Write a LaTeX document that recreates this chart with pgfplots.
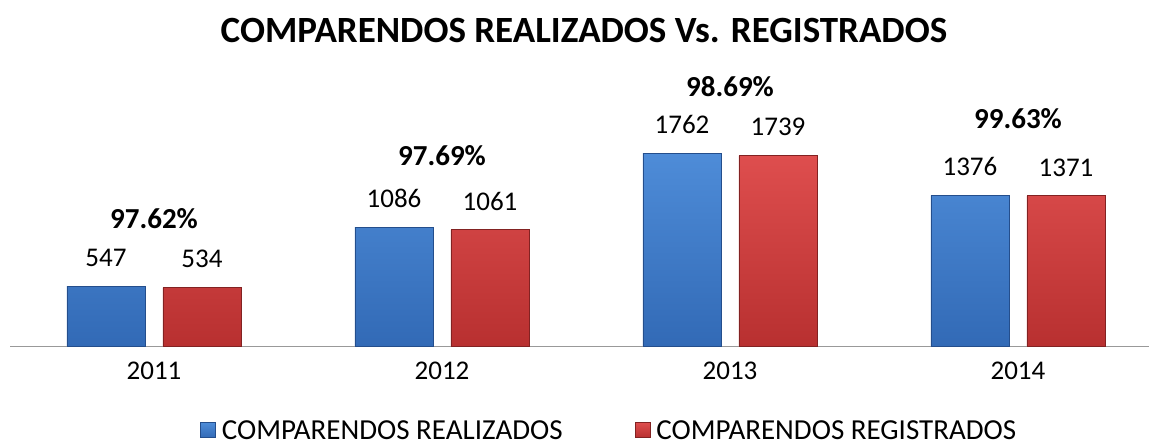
\documentclass[border=0pt]{standalone}
\usepackage{pgfplots}
\pgfplotsset{compat=1.18}
\usepackage{fontspec}
\setmainfont{Carlito}
\definecolor{cbluetop}{RGB}{78,140,216}
\definecolor{cbluebot}{RGB}{50,106,182}
\definecolor{cbluedark}{RGB}{36,78,140}
\definecolor{credtop}{RGB}{222,78,78}
\definecolor{credbot}{RGB}{184,48,48}
\definecolor{creddark}{RGB}{130,34,34}
\begin{document}
\begin{tikzpicture}[x=1pt,y=1pt]
\useasboundingbox (0,0) rectangle (1149,445);
\node[font=\fontsize{37}{40}\selectfont\bfseries] at (584,414) {COMPARENDOS REALIZADOS Vs. REGISTRADOS};
\begin{axis}[
  at={(10pt,99pt)}, anchor=south west,
  scale only axis, width=1139pt, height=266pt,
  xmin=-0.5, xmax=3.455, ymin=0, ymax=2429,
  axis x line=bottom, axis y line=none,
  axis line style={-, draw=gray!80, line width=1pt},
  xtick=data, xticklabels={2011,2012,2013,2014},
  major tick length=0pt,
  ytick=\empty,
  x tick label style={font=\fontsize{27}{30}\selectfont, yshift=-12pt},
  ybar, bar width=78pt,
  nodes near coords,
  /pgf/number format/assume math mode=true,
  /pgf/number format/1000 sep={},
  every node near coord/.append style={font=\fontsize{27}{30}\selectfont, anchor=south, inner sep=0pt, yshift=19pt},
  legend style={draw=none, fill=none, at={(0.526,-0.318)}, anchor=center, legend columns=2,
    font=\fontsize{29}{31}\selectfont, inner sep=0pt,
    /tikz/every odd column/.append style={column sep=4pt},
    /tikz/every even column/.append style={column sep=70pt}},
  legend image code/.code={\draw[#1, line width=0.8pt] (0pt,-7pt) rectangle (15pt,8pt);},
  clip=false,
]
\addplot[bar shift=-48pt, top color=cbluetop, bottom color=cbluebot, draw=cbluedark, line width=0.8pt] coordinates {(0,547) (1,1086) (2,1762) (3,1376)};
\addplot[bar shift=48pt, top color=credtop, bottom color=credbot, draw=creddark, line width=0.8pt] coordinates {(0,534) (1,1061) (2,1739) (3,1371)};
\legend{COMPARENDOS REALIZADOS, COMPARENDOS REGISTRADOS}
\node[font=\fontsize{29}{32}\selectfont\bfseries, anchor=south, inner sep=0pt] at (axis cs:0,1068) {97.62\%};
\node[font=\fontsize{29}{32}\selectfont\bfseries, anchor=south, inner sep=0pt] at (axis cs:1,1643) {97.69\%};
\node[font=\fontsize{29}{32}\selectfont\bfseries, anchor=south, inner sep=0pt] at (axis cs:2,2273) {98.69\%};
\node[font=\fontsize{29}{32}\selectfont\bfseries, anchor=south, inner sep=0pt] at (axis cs:3,1981) {99.63\%};
\end{axis}
\end{tikzpicture}
\end{document}
